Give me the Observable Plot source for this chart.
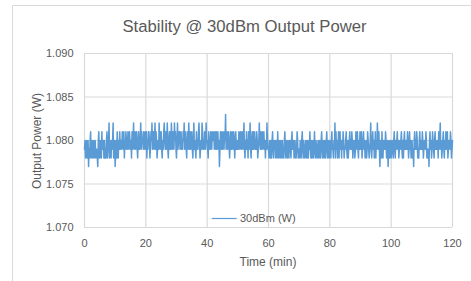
<!DOCTYPE html>
<html><head><meta charset="utf-8">
<script src="https://cdn.jsdelivr.net/npm/d3@7"></script>
<script src="https://cdn.jsdelivr.net/npm/@observablehq/plot@0.6"></script>
<style>body{margin:0;background:#fff} svg{display:block}</style>
</head><body><div id="chart"></div>
<script>
const chartTitle = "Stability @ 30dBm Output Power";
const seriesName = "30dBm (W)";
const xLabel = "Time (min)";
const yLabel = "Output Power (W)";
const sampleMinutes = 1 / 6; // one reading every 10 s
const xTicks = [0, 20, 40, 60, 80, 100, 120];
const yTicks = [1.070, 1.075, 1.080, 1.085, 1.090];
const power = [
1.079,1.080,1.078,1.079,1.080,1.078, 1.078,1.080,1.077,1.079,1.078,1.080,
1.081,1.078,1.079,1.080,1.078,1.079, 1.080,1.078,1.079,1.080,1.078,1.079,
1.079,1.078,1.077,1.080,1.081,1.078, 1.078,1.080,1.079,1.078,1.081,1.079,
1.079,1.080,1.078,1.080,1.078,1.079, 1.078,1.080,1.081,1.078,1.079,1.080,
1.082,1.078,1.080,1.079,1.078,1.080, 1.079,1.080,1.082,1.078,1.079,1.080,
1.077,1.079,1.080,1.078,1.081,1.079, 1.078,1.080,1.079,1.081,1.079,1.080,
1.080,1.079,1.081,1.080,1.079,1.081, 1.078,1.080,1.079,1.081,1.080,1.079,
1.079,1.081,1.080,1.079,1.081,1.080, 1.079,1.080,1.078,1.081,1.079,1.080,
1.082,1.079,1.080,1.081,1.079,1.080, 1.081,1.079,1.078,1.080,1.081,1.079,
1.079,1.080,1.082,1.079,1.081,1.080, 1.080,1.079,1.081,1.080,1.079,1.081,
1.079,1.081,1.078,1.080,1.079,1.081, 1.081,1.080,1.078,1.079,1.081,1.080,
1.082,1.079,1.080,1.081,1.079,1.080, 1.082,1.079,1.081,1.080,1.078,1.079,
1.080,1.079,1.082,1.080,1.079,1.081, 1.081,1.079,1.078,1.080,1.079,1.081,
1.082,1.080,1.079,1.081,1.079,1.080, 1.082,1.079,1.078,1.080,1.081,1.079,
1.081,1.079,1.082,1.080,1.079,1.081, 1.080,1.079,1.082,1.080,1.081,1.079,
1.078,1.080,1.082,1.079,1.080,1.081, 1.081,1.079,1.080,1.081,1.079,1.080,
1.079,1.081,1.080,1.082,1.079,1.081, 1.080,1.079,1.078,1.081,1.080,1.079,
1.082,1.080,1.079,1.081,1.079,1.080, 1.081,1.079,1.078,1.080,1.082,1.079,
1.080,1.079,1.078,1.081,1.079,1.080, 1.079,1.081,1.082,1.080,1.078,1.079,
1.080,1.079,1.082,1.081,1.079,1.080, 1.079,1.081,1.080,1.079,1.082,1.080,
1.080,1.079,1.078,1.081,1.080,1.079, 1.079,1.081,1.080,1.079,1.081,1.080,
1.080,1.081,1.079,1.080,1.081,1.079, 1.081,1.079,1.080,1.081,1.079,1.080,
1.077,1.079,1.081,1.080,1.079,1.081, 1.079,1.081,1.080,1.079,1.081,1.080,
1.083,1.079,1.080,1.081,1.079,1.080, 1.081,1.079,1.078,1.080,1.081,1.079,
1.079,1.081,1.080,1.079,1.081,1.080, 1.078,1.080,1.081,1.079,1.080,1.079,
1.080,1.079,1.081,1.080,1.079,1.081, 1.081,1.079,1.080,1.081,1.079,1.080,
1.082,1.079,1.078,1.080,1.079,1.081, 1.079,1.080,1.078,1.081,1.079,1.080,
1.082,1.079,1.078,1.080,1.081,1.079, 1.081,1.079,1.080,1.081,1.079,1.080,
1.079,1.081,1.080,1.078,1.079,1.080, 1.082,1.080,1.079,1.081,1.079,1.080,
1.081,1.079,1.080,1.081,1.079,1.080, 1.078,1.080,1.079,1.082,1.080,1.079,
1.079,1.078,1.080,1.079,1.078,1.080, 1.078,1.080,1.081,1.079,1.078,1.080,
1.079,1.080,1.078,1.079,1.080,1.078, 1.081,1.079,1.078,1.080,1.079,1.078,
1.080,1.079,1.078,1.080,1.079,1.078, 1.078,1.080,1.081,1.079,1.078,1.080,
1.079,1.078,1.080,1.079,1.078,1.080, 1.080,1.079,1.078,1.080,1.081,1.079,
1.079,1.080,1.078,1.079,1.080,1.078, 1.078,1.079,1.081,1.080,1.078,1.079,
1.079,1.078,1.080,1.079,1.078,1.080, 1.081,1.079,1.078,1.080,1.079,1.078,
1.079,1.080,1.078,1.079,1.080,1.078, 1.078,1.080,1.079,1.081,1.079,1.078,
1.080,1.078,1.079,1.080,1.078,1.079, 1.081,1.079,1.078,1.080,1.079,1.078,
1.079,1.080,1.078,1.079,1.080,1.078, 1.078,1.080,1.081,1.079,1.078,1.080,
1.079,1.078,1.080,1.079,1.078,1.080, 1.081,1.079,1.078,1.080,1.079,1.078,
1.080,1.079,1.078,1.080,1.081,1.079, 1.079,1.078,1.080,1.079,1.082,1.078,
1.081,1.079,1.080,1.078,1.079,1.081, 1.078,1.080,1.081,1.079,1.080,1.078,
1.080,1.079,1.081,1.080,1.078,1.079, 1.079,1.080,1.081,1.079,1.078,1.080,
1.078,1.079,1.080,1.081,1.079,1.080, 1.079,1.081,1.080,1.078,1.079,1.080,
1.080,1.078,1.079,1.081,1.080,1.079, 1.081,1.079,1.078,1.080,1.079,1.081,
1.079,1.080,1.081,1.078,1.079,1.080, 1.081,1.079,1.080,1.078,1.079,1.080,
1.078,1.079,1.081,1.080,1.079,1.078, 1.079,1.080,1.082,1.079,1.078,1.080,
1.081,1.079,1.080,1.078,1.079,1.081, 1.078,1.080,1.079,1.082,1.080,1.079,
1.081,1.079,1.077,1.080,1.079,1.078, 1.081,1.079,1.078,1.080,1.079,1.080,
1.079,1.081,1.080,1.078,1.079,1.080, 1.077,1.079,1.080,1.078,1.079,1.080,
1.078,1.079,1.080,1.079,1.078,1.080, 1.081,1.079,1.078,1.080,1.079,1.080,
1.081,1.079,1.080,1.078,1.079,1.080, 1.079,1.080,1.081,1.079,1.078,1.080,
1.078,1.080,1.081,1.079,1.080,1.079, 1.080,1.079,1.081,1.080,1.078,1.079,
1.081,1.079,1.080,1.078,1.079,1.080, 1.078,1.079,1.077,1.080,1.081,1.079,
1.080,1.079,1.081,1.080,1.078,1.079, 1.078,1.080,1.081,1.079,1.080,1.079,
1.079,1.081,1.080,1.078,1.079,1.080, 1.080,1.079,1.081,1.080,1.078,1.079,
1.078,1.079,1.077,1.080,1.081,1.079, 1.080,1.078,1.079,1.081,1.080,1.079,
1.078,1.080,1.081,1.079,1.080,1.079, 1.079,1.080,1.078,1.081,1.079,1.080,
1.082,1.079,1.080,1.078,1.079,1.080, 1.081,1.079,1.078,1.080,1.079,1.081,
1.079,1.080,1.081,1.078,1.079,1.080, 1.080,1.079,1.081,1.080,1.078,1.079,
1.080
];

const data = power.map((p, i) => ({time: i * sampleMinutes, power: p}));
const font = "'Liberation Sans', Arial, sans-serif";
const grey = "#595959";
const gridColor = "#d9d9d9";
const lineColor = "#5b9bd5";

const svg = Plot.plot({
  width: 471, height: 281,
  marginLeft: 84, marginRight: 19, marginTop: 53, marginBottom: 54,
  style: {fontFamily: font, fontSize: "11px", color: grey, background: "#fff", overflow: "visible"},
  x: {domain: [0, 120], ticks: xTicks, tickSize: 0, tickPadding: 12, label: null},
  y: {domain: [1.07, 1.09], ticks: yTicks, tickFormat: d3.format(".3f"), tickSize: 0, tickPadding: 11, label: null},
  marks: [
    Plot.ruleX(xTicks, {stroke: gridColor, strokeWidth: 1.2}),
    Plot.ruleY(yTicks, {stroke: gridColor, strokeWidth: 1.2}),
    Plot.line(data, {x: "time", y: "power", stroke: lineColor, strokeWidth: 1.5})
  ]
});

const s = d3.select(svg);
// chart border (top & left visible in the crop)
s.append("path").attr("d", "M12.5,281V5.5H471").attr("fill", "none").attr("stroke", gridColor);
s.append("text").text(chartTitle).attr("x", 244.5).attr("y", 32)
  .attr("text-anchor", "middle").attr("fill", grey).style("font-size", "16.7px").style("font-family", font);
s.append("text").text(yLabel).attr("transform", "translate(40.5,141) rotate(-90)")
  .attr("text-anchor", "middle").attr("fill", grey).style("font-size", "12px").style("font-family", font);
s.append("text").text(xLabel).attr("x", 268).attr("y", 266)
  .attr("text-anchor", "middle").attr("fill", grey).style("font-size", "12px").style("font-family", font);
// legend
s.append("line").attr("x1", 211.7).attr("x2", 236.7).attr("y1", 218.5).attr("y2", 218.5)
  .attr("stroke", lineColor).attr("stroke-width", 1.2);
s.append("text").text(seriesName).attr("x", 240).attr("y", 222)
  .attr("text-anchor", "start").attr("fill", grey).style("font-size", "11px").style("font-family", font);

document.getElementById("chart").appendChild(svg);
</script>
</body></html>
